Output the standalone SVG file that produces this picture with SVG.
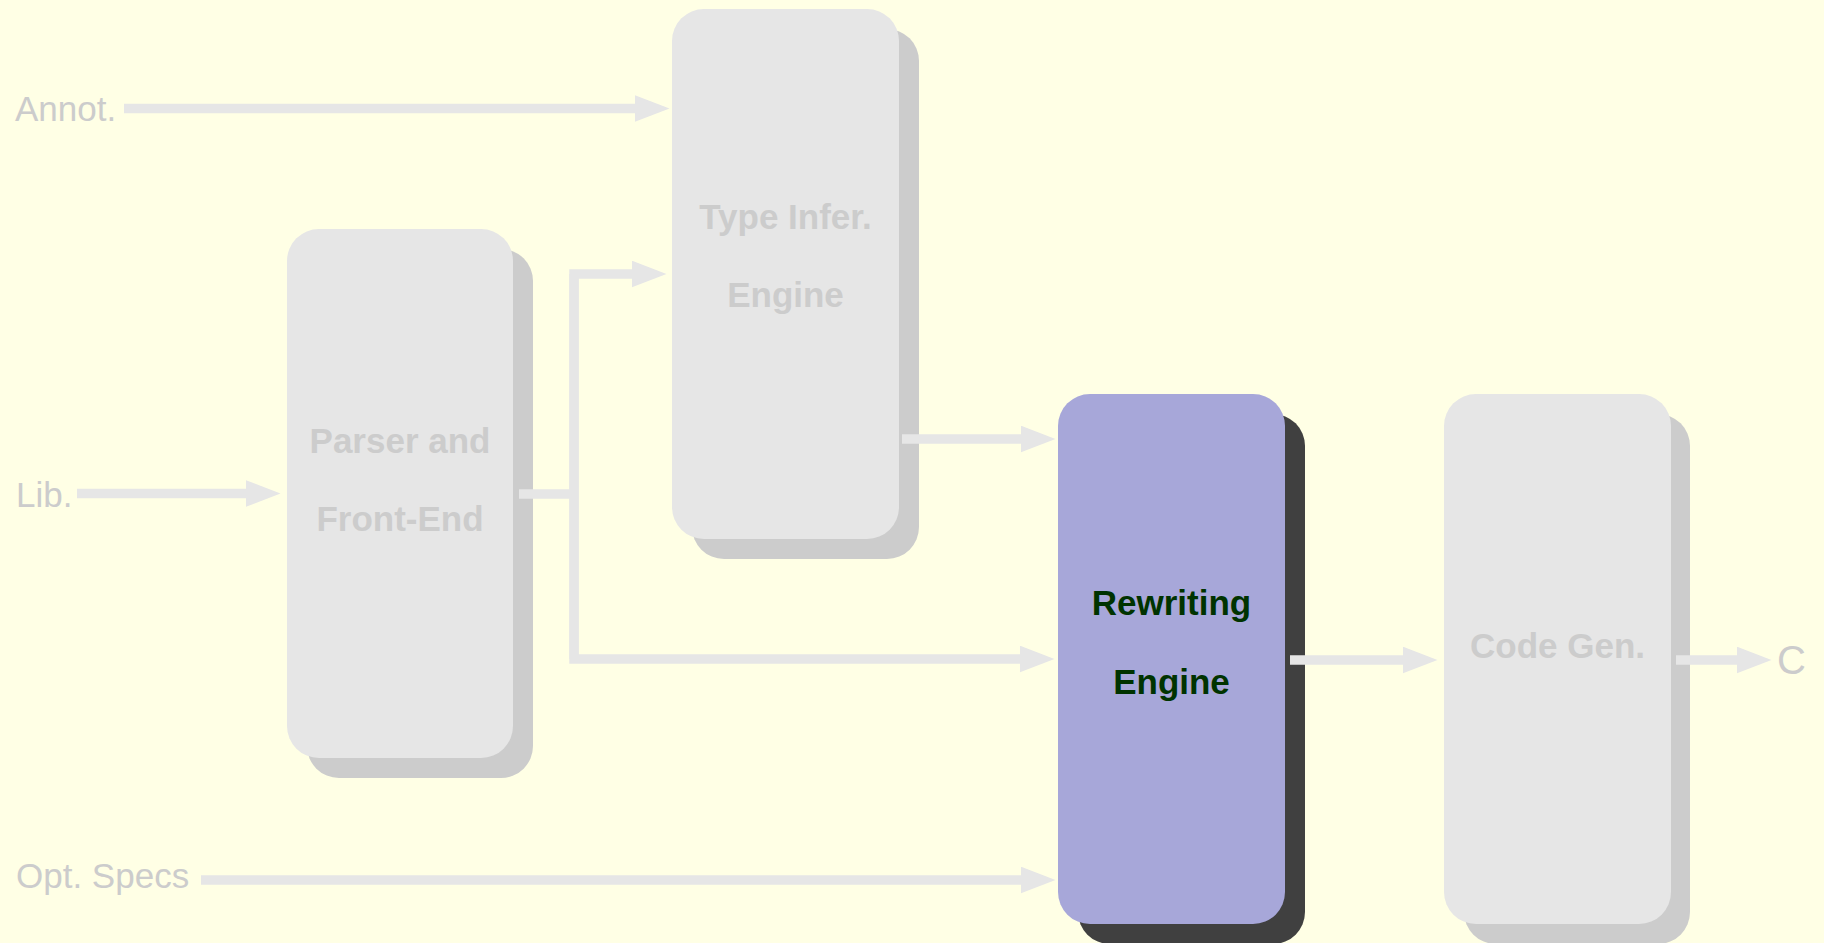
<svg xmlns="http://www.w3.org/2000/svg" width="1824" height="943" viewBox="0 0 1824 943">
<style>
.bg{fill:#ffffe5}
.box{fill:#e6e6e6}
.shadow{fill:#cccccc}
.hbox{fill:#a7a7d9}
.hshadow{fill:#404040}
.ntext{font-family:"Liberation Sans",Arial,sans-serif;font-weight:bold;font-size:35px;fill:#cccccc;text-anchor:middle}
.htext{font-family:"Liberation Sans",Arial,sans-serif;font-weight:bold;font-size:35px;fill:#003300;text-anchor:middle}
.label{font-family:"Liberation Sans",Arial,sans-serif;font-size:35px;fill:#cccccc}
.conn{fill:none;stroke:#e6e6e6;stroke-width:9.5;stroke-linejoin:miter;marker-end:url(#arrow)}
.plain{fill:none;stroke:#e6e6e6;stroke-width:9.5}
</style>
<defs>
<marker id="arrow" markerUnits="userSpaceOnUse" markerWidth="36" markerHeight="28" refX="0.5" refY="13.5" orient="auto">
<path d="M0,0 L35,13.5 L0,27 Z" fill="#e6e6e6"/>
</marker>
</defs>
<rect class="bg" x="0" y="0" width="1824" height="943"/>

<g id="parser">
<rect class="shadow" x="307" y="249" width="226" height="529" rx="32" ry="32"/>
<rect class="box" x="287" y="229" width="226" height="529" rx="32" ry="32"/>
<text class="ntext" x="400" y="453">Parser and</text>
<text class="ntext" x="400" y="531">Front-End</text>
</g>

<g id="typeinfer">
<rect class="shadow" x="692" y="29" width="227" height="530" rx="32" ry="32"/>
<rect class="box" x="672" y="9" width="227" height="530" rx="32" ry="32"/>
<text class="ntext" x="785.5" y="229">Type Infer.</text>
<text class="ntext" x="785.5" y="307">Engine</text>
</g>

<g id="rewriting">
<rect class="hshadow" x="1078" y="414" width="227" height="530" rx="32" ry="32"/>
<rect class="hbox" x="1058" y="394" width="227" height="530" rx="32" ry="32"/>
<text class="htext" x="1171.5" y="615">Rewriting</text>
<text class="htext" x="1171.5" y="694">Engine</text>
</g>

<g id="codegen">
<rect class="shadow" x="1464" y="414" width="226" height="530" rx="32" ry="32"/>
<rect class="box" x="1444" y="394" width="227" height="530" rx="32" ry="32"/>
<text class="ntext" x="1557.5" y="658">Code Gen.</text>
</g>

<g id="labels">
<text class="label" x="15" y="121">Annot.</text>
<text class="label" x="16" y="507">Lib.</text>
<text class="label" x="16" y="888">Opt. Specs</text>
<text class="label" x="1777" y="674" style="font-size:40px">C</text>
</g>

<g id="connectors">
<path class="conn" d="M124,108.5 H635"/>
<path class="conn" d="M77,493.5 H246"/>
<path class="plain" d="M519,494 H574"/>
<path class="conn" d="M574,659 V274 H632"/>
<path class="conn" d="M574,274 V659 H1020"/>
<path class="conn" d="M902,439 H1021"/>
<path class="conn" d="M201,880 H1021"/>
<path class="conn" d="M1290,660 H1403"/>
<path class="conn" d="M1676,660 H1737"/>
</g>
</svg>
